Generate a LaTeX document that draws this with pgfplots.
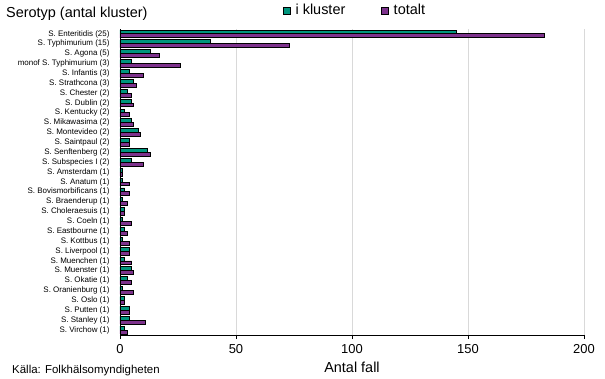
\documentclass[border=0pt]{standalone}
\usepackage{fontspec}
\setmainfont{Liberation Sans}
\usepackage{pgfplots}
\pgfplotsset{compat=1.18}
\usepackage{pgfplotstable}
\definecolor{tealc}{RGB}{0,150,125}
\definecolor{purp}{RGB}{125,50,140}
\definecolor{gridc}{RGB}{217,217,217}

\pgfplotstableread{
idx klus tot
0 145 183
1 39 73
2 13 17
3 5 26
4 4 10
5 6 7
6 3 5
7 5 6
8 2 4
9 5 6
10 8 9
11 4 4
12 12 13
13 5 10
14 1 1
15 1 4
16 2 4
17 1 3
18 2 2
19 1 5
20 2 3
21 1 4
22 4 4
23 2 5
24 5 6
25 3 5
26 1 6
27 2 2
28 4 4
29 4 11
30 2 3
}\datatable

\begin{document}
\begin{tikzpicture}
\path[use as bounding box] (-120bp,-44bp) rectangle (485bp,335bp);
\begin{axis}[
  at={(0,0)}, anchor=south west,
  scale only axis,
  width=464bp, height=306bp,
  xbar,
  bar width=3.9bp,
  xmin=0, xmax=200,
  ymin=-0.5, ymax=30.5,
  y dir=reverse,
  axis x line*=bottom,
  axis y line*=left,
  axis line style={black, line width=0.9bp},
  xtick={0,50,100,150,200},
  xtick align=outside,
  major tick length=4bp,
  x tick style={black, line width=0.9bp},
  xmajorgrids,
  grid style={gridc, line width=0.9bp},
  /pgf/number format/assume math mode=true,
  xticklabel style={font=\fontsize{13}{13}\selectfont, anchor=north, yshift=-1.5bp},
  ytick={0,...,30},
  ytick style={draw=none},
  yticklabel style={font=\fontsize{8}{8}\selectfont, anchor=east, xshift=-3bp},
  yticklabels={S. Enteritidis (25), S. Typhimurium (15), S. Agona (5), monof S. Typhimurium (3), S. Infantis (3), S. Strathcona (3), S. Chester (2), S. Dublin (2), S. Kentucky (2), S. Mikawasima (2), S. Montevideo (2), S. Saintpaul (2), S. Senftenberg (2), S. Subspecies I (2), S. Amsterdam (1), S. Anatum (1), S. Bovismorbificans (1), S. Braenderup (1), S. Choleraesuis (1), S. Coeln (1), S. Eastbourne (1), S. Kottbus (1), S. Liverpool (1), S. Muenchen (1), S. Muenster (1), S. Okatie (1), S. Oranienburg (1), S. Oslo (1), S. Putten (1), S. Stanley (1), S. Virchow (1)},
  xlabel={Antal fall},
  xlabel style={font=\fontsize{14.5}{14.5}\selectfont, at={(rel axis cs:0.5,0)}, anchor=base, yshift=-37.7bp},
  legend style={draw=none, fill=none, at={(rel axis cs:0,1)}, anchor=west, xshift=163bp, yshift=18.5bp, inner sep=0pt, font=\fontsize{14.5}{14.5}\selectfont, /tikz/every even column/.append style={column sep=34bp}, /tikz/every odd column/.append style={column sep=2.5bp}},
  legend columns=2,
  legend image code/.code={\draw[#1, line width=0.9bp] (0bp,-3.5bp) rectangle (7bp,3.5bp);},
]
\addplot[draw=black, line width=0.9bp, fill=tealc, bar shift=1.95bp] table[x=klus, y=idx] {\datatable};
\addplot[draw=black, line width=0.9bp, fill=purp, bar shift=-1.95bp] table[x=tot, y=idx] {\datatable};
\legend{i kluster, totalt}
\end{axis}
\node[anchor=base west, font=\fontsize{14.5}{14.5}\selectfont, inner sep=0pt] at (-114bp,317.7bp) {Serotyp (antal kluster)};
\node[anchor=base west, font=\fontsize{11.5}{11.5}\selectfont, inner sep=0pt] at (-108bp,-38.3bp) {Källa: Folkhälsomyndigheten};
\end{tikzpicture}
\end{document}
